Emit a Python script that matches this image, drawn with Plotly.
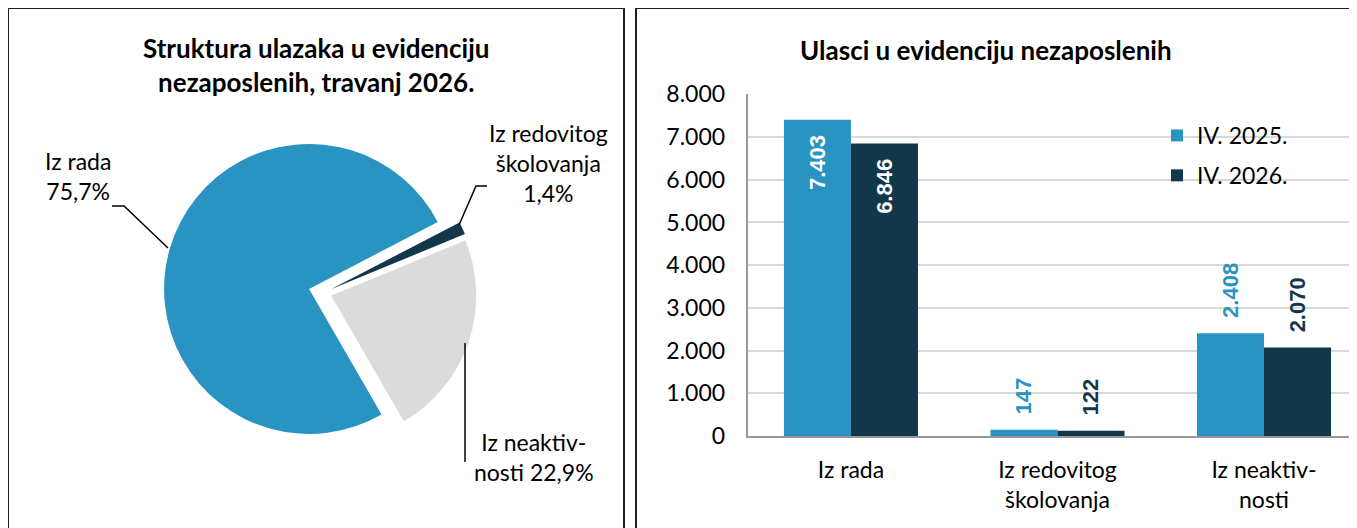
import plotly.graph_objects as go

W, H = 1357, 528

# pie: structure of entries, April 2026 (shares in %)
pie_labels = ["Iz rada", "Iz redovitog školovanja", "Iz neaktivnosti"]
pie_shares = [75.7, 1.4, 22.9]
pie_label_head = ["Iz rada<br>", "Iz redovitog<br>školovanja<br>", "Iz neaktiv-<br>nosti "]

# bars: entries into the register
categories = ["Iz rada", "Iz redovitog<br>školovanja", "Iz neaktiv-<br>nosti"]
series_names = ["IV. 2025.", "IV. 2026."]
iv_2025 = [7403, 147, 2408]
iv_2026 = [6846, 122, 2070]
y_ticks = [0, 1000, 2000, 3000, 4000, 5000, 6000, 7000, 8000]

BLUE = "#2994c1"
DARK = "#12364a"
GREY = "#dbdbdb"
FONT = "Lato"
NBSP = "\u00a0"
OFF = 8  # page offset of the figure (body margin)


def px(x):
    return (x - OFF) / W


def py(y):
    return 1 - (y - OFF) / H


def fmt_int(v):
    return f"{v:,}".replace(",", ".")


def fmt_pct(v):
    return f"{v:.1f}".replace(".", ",") + "%"


def bar_labels(values):
    # first bar keeps its label inside, the small ones sit above the bar
    out = []
    for i, v in enumerate(values):
        out.append(fmt_int(v) + NBSP * 2 if i == 0 else NBSP * 2 + fmt_int(v))
    return out


positions = ["inside", "outside", "outside"]

fig = go.Figure()

fig.add_trace(
    go.Pie(
        labels=pie_labels,
        values=pie_shares,
        sort=False,
        direction="clockwise",
        rotation=150,
        pull=[0.10, 0.06, 0.06],
        marker=dict(colors=[BLUE, DARK, GREY], line=dict(width=0)),
        textinfo="none",
        showlegend=False,
        domain=dict(x=[px(163.5), px(482.5)], y=[py(452.5), py(133.5)]),
    )
)

for name, values, color, group in [
    (series_names[0], iv_2025, BLUE, "a"),
    (series_names[1], iv_2026, DARK, "b"),
]:
    fig.add_trace(
        go.Bar(
            x=categories,
            y=values,
            name=name,
            legendgroup=group,
            marker=dict(color=color, line=dict(width=0)),
            text=bar_labels(values),
            textposition=positions,
            textangle=-90,
            insidetextanchor="end",
            constraintext="none",
            cliponaxis=False,
            insidetextfont=dict(family="Liberation Sans", size=22, color="white", weight="bold"),
            outsidetextfont=dict(family="Liberation Sans", size=22, color=color, weight="bold"),
        )
    )

annotations = [
    dict(
        x=px(315.5), y=py(64.5),
        text="<b>Struktura ulazaka u evidenciju<br>nezaposlenih, travanj 2026.</b>",
        font=dict(size=26),
    ),
    dict(
        x=px(985.6), y=py(50),
        text="<b>Ulasci u evidenciju nezaposlenih</b>",
        font=dict(size=26),
    ),
]
label_pos = [(77.5, 176), (548, 163.5), (534, 457)]
for head, share, (lx, ly) in zip(pie_label_head, pie_shares, label_pos):
    annotations.append(
        dict(x=px(lx), y=py(ly), text=head + fmt_pct(share), font=dict(size=23))
    )
for a in annotations:
    a.update(xref="paper", yref="paper", showarrow=False, xanchor="center", yanchor="middle")

line = dict(color="black", width=1.5)
shapes = [
    # panel frames
    dict(type="rect", xref="paper", yref="paper", x0=px(8), x1=px(624), y0=py(560), y1=py(8),
         line=dict(color="#1f1f1f", width=2), layer="above"),
    dict(type="rect", xref="paper", yref="paper", x0=px(636), x1=px(1420), y0=py(560), y1=py(8),
         line=dict(color="#1f1f1f", width=2), layer="above"),
    # pie leader lines
    dict(type="path", xref="paper", yref="paper",
         path=f"M{px(112)},{py(206)} L{px(124)},{py(206)} L{px(168)},{py(248)}", line=line),
    dict(type="path", xref="paper", yref="paper",
         path=f"M{px(459)},{py(225)} L{px(476)},{py(186)} L{px(487)},{py(186)}", line=line),
    dict(type="line", xref="paper", yref="paper",
         x0=px(465), x1=px(465), y0=py(343), y1=py(462), line=line),
    # white area behind the legend
    dict(type="rect", xref="paper", yref="paper", x0=px(1124), x1=px(1333), y0=py(200), y1=py(112),
         fillcolor="white", line=dict(width=0), layer="between"),
]

fig.update_layout(
    width=W,
    height=H,
    margin=dict(l=0, r=0, t=0, b=0, autoexpand=False),
    paper_bgcolor="white",
    plot_bgcolor="white",
    font=dict(family=FONT, color="black"),
    separators=",.",
    barmode="group",
    bargap=0.351,
    bargroupgap=0,
    annotations=annotations,
    shapes=shapes,
    legend=dict(
        x=px(1157), y=py(114), xanchor="left", yanchor="top",
        bgcolor="rgba(0,0,0,0)", font=dict(size=23),
        traceorder="grouped", tracegroupgap=7,
    ),
)
fig.update_xaxes(
    domain=[px(747.7), 1],
    range=[-0.5, 2.489],
    automargin=False,
    showgrid=False,
    showline=True,
    linecolor="#999999",
    linewidth=2,
    ticks="",
    tickfont=dict(size=23),
    ticklabelstandoff=12,
    fixedrange=True,
)
fig.update_yaxes(
    domain=[py(436), py(94.3)],
    range=[0, 8000],
    tickvals=y_ticks,
    tickformat=",d",
    automargin=False,
    showgrid=True,
    gridcolor="#d9d9d9",
    gridwidth=2,
    showline=True,
    linecolor="#999999",
    linewidth=2,
    zeroline=False,
    ticks="",
    tickfont=dict(size=23),
    ticklabelstandoff=16,
    fixedrange=True,
)

fig.write_html("out.html")
